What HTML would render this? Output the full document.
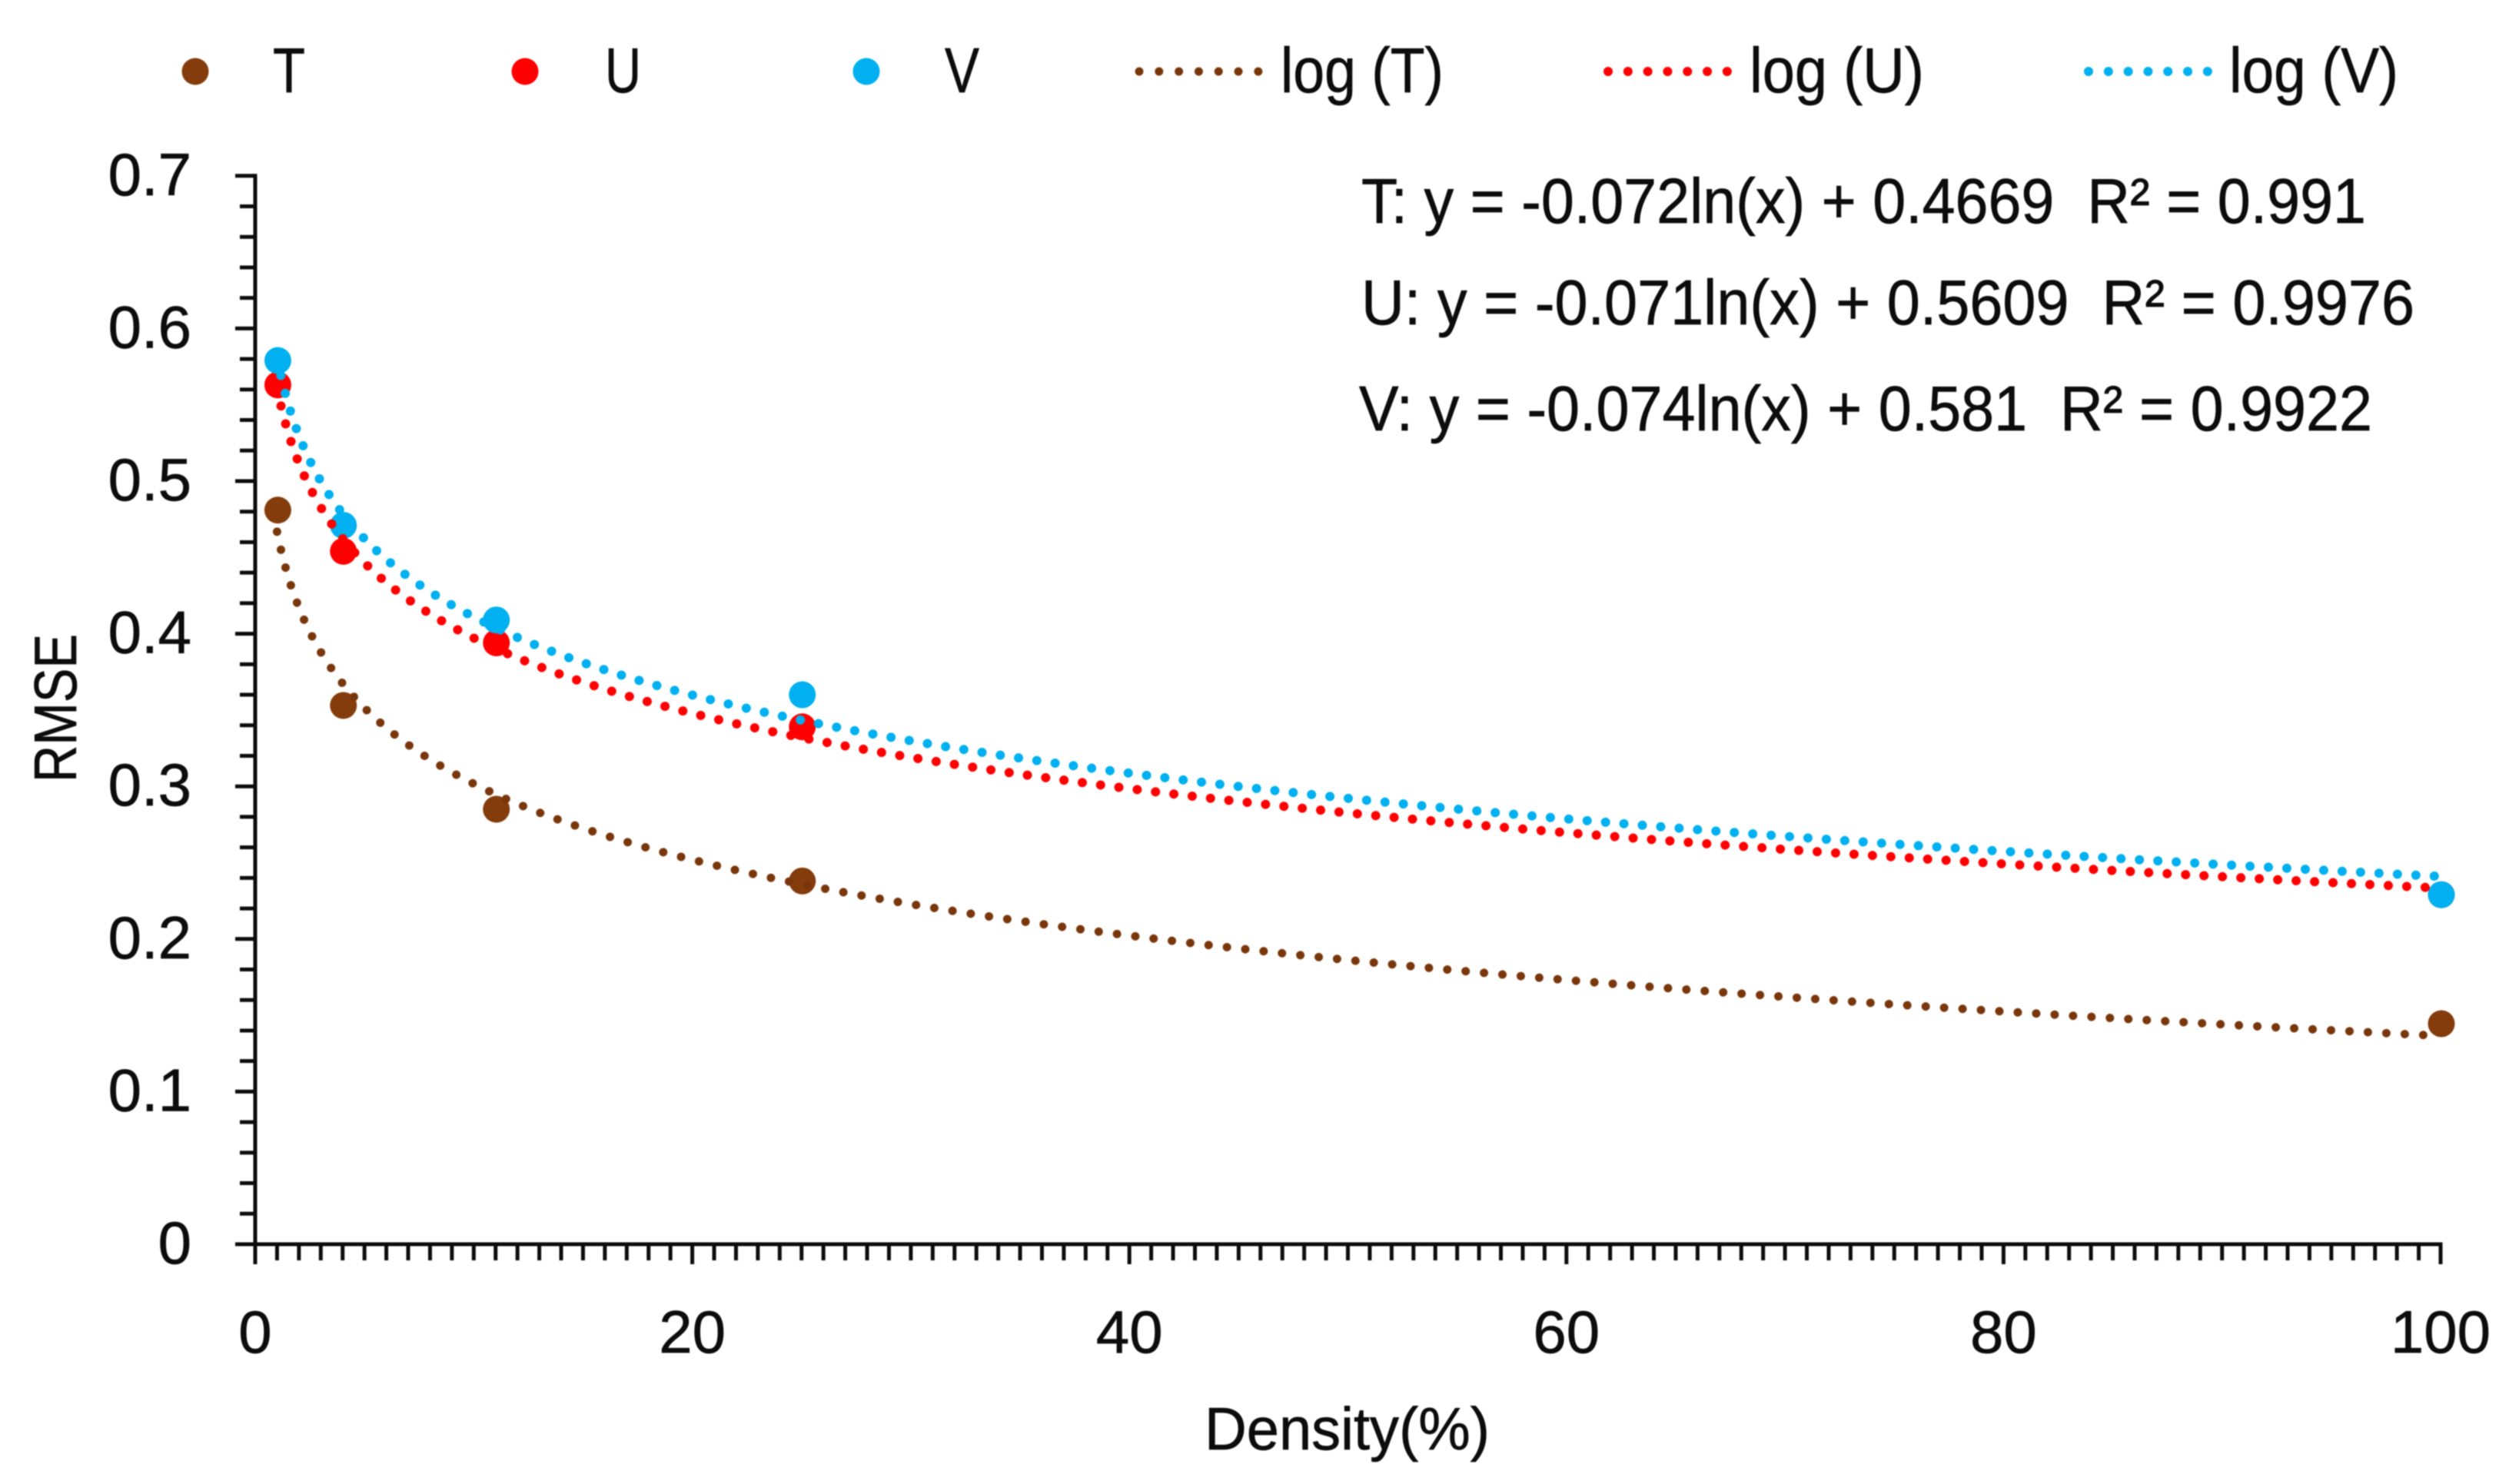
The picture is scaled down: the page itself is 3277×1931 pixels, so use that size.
<!DOCTYPE html>
<html lang="en">
<head>
<meta charset="utf-8">
<title>RMSE vs Density</title>
<style>
html,body{margin:0;padding:0;background:#fff;width:3277px;height:1931px;overflow:hidden}
svg{display:block;filter:blur(0.9px)}
text{font-family:"Liberation Sans",sans-serif;font-size:78px;fill:#0c0c0c;stroke:#0c0c0c;stroke-width:0.7px}
.tall{font-size:83px}
</style>
</head>
<body>
<svg id="chart" xmlns="http://www.w3.org/2000/svg" width="3277" height="1931" viewBox="0 0 3277 1931">
  <rect x="0" y="0" width="3277" height="1931" fill="#fff"/>
  <g id="axes"></g>
  <g id="markers"></g>
  <g id="trends"></g>

  <g>
    <circle cx="254" cy="93" r="17.5" fill="#843C0C"/>
    <text class="tall" x="355" y="120" textLength="42" lengthAdjust="spacingAndGlyphs">T</text>
    <circle cx="683" cy="93" r="17.5" fill="#FF0000"/>
    <text class="tall" x="787" y="120" textLength="47" lengthAdjust="spacingAndGlyphs">U</text>
    <circle cx="1127" cy="93" r="17.5" fill="#00B0F0"/>
    <text class="tall" x="1229" y="120" textLength="45" lengthAdjust="spacingAndGlyphs">V</text>
    <line x1="1482" y1="93" x2="1637" y2="93" stroke="#7A360B" stroke-width="11" stroke-linecap="round" stroke-dasharray="0.01 25.8"/>
    <text class="tall" x="1666" y="120" textLength="212" lengthAdjust="spacingAndGlyphs">log (T)</text>
    <line x1="2092" y1="93" x2="2248" y2="93" stroke="#FF0000" stroke-width="12" stroke-linecap="round" stroke-dasharray="0.01 25.8"/>
    <text class="tall" x="2276" y="120" textLength="227" lengthAdjust="spacingAndGlyphs">log (U)</text>
    <line x1="2717" y1="93" x2="2873" y2="93" stroke="#00B0F0" stroke-width="12" stroke-linecap="round" stroke-dasharray="0.01 25.8"/>
    <text class="tall" x="2900" y="120" textLength="220" lengthAdjust="spacingAndGlyphs">log (V)</text>
  </g>

  <g>
    <text class="tall" x="1771" y="290" textLength="1307" lengthAdjust="spacingAndGlyphs">T: y = -0.072ln(x) + 0.4669 &#160;R² = 0.991</text>
    <text class="tall" x="1771" y="422" textLength="1370" lengthAdjust="spacingAndGlyphs">U: y = -0.071ln(x) + 0.5609 &#160;R² = 0.9976</text>
    <text class="tall" x="1768" y="560" textLength="1318" lengthAdjust="spacingAndGlyphs">V: y = -0.074ln(x) + 0.581 &#160;R² = 0.9922</text>
  </g>

  <text x="1567" y="1886" textLength="371" lengthAdjust="spacingAndGlyphs">Density(%)</text>
  <text transform="translate(99 1018) rotate(-90)" x="0" y="0" textLength="193" lengthAdjust="spacingAndGlyphs">RMSE</text>
</svg>

<script>
const densityValues = [1, 4, 11, 25, 100];
const seriesT = [0.481, 0.353, 0.285, 0.238, 0.1445];
const seriesU = [0.563, 0.454, 0.394, 0.339, 0.229];
const seriesV = [0.579, 0.471, 0.409, 0.360, 0.229];
const xTickLabels = [0, 20, 40, 60, 80, 100];
const yTickLabels = [0, 0.1, 0.2, 0.3, 0.4, 0.5, 0.6, 0.7];

const NS = 'http://www.w3.org/2000/svg';
const xAt = v => 332 + (3175 - 332) * v / 100;
const yAt = v => 1619 - 1986 * v;

const axes = document.getElementById('axes');
const markers = document.getElementById('markers');
const trends = document.getElementById('trends');

function svgEl(tag, attrs, parent) {
  const el = document.createElementNS(NS, tag);
  for (const k in attrs) el.setAttribute(k, attrs[k]);
  parent.appendChild(el);
  return el;
}

const axisStyle = { stroke: '#0c0c0c', 'stroke-width': 5 };

const yAxisLine = svgEl('line', Object.assign({ x1: xAt(0), x2: xAt(0), y1: yAt(0.7) - 2.5, y2: yAt(0) + 26 }, axisStyle), axes);



const xAxisLine = svgEl('line', Object.assign({ x1: xAt(0) - 26, x2: xAt(100) + 2.5, y1: yAt(0), y2: yAt(0) }, axisStyle), axes);



// Minor and major ticks on the x axis (one per density unit)
for (let i = 0; i <= 100; i++) {
  const major = i % 20 === 0;
  const tick = svgEl('line', Object.assign({ x1: xAt(i), x2: xAt(i), y1: yAt(0), y2: yAt(0) + (major ? 26 : 21) }, axisStyle), axes);
  
  
}

// Minor and major ticks on the y axis (one per 0.02)
for (let i = 0; i <= 35; i++) {
  const major = i % 5 === 0;
  const v = i * 0.02;
  const tick = svgEl('line', Object.assign({ x1: xAt(0) - (major ? 26 : 20), x2: xAt(0), y1: yAt(v), y2: yAt(v) }, axisStyle), axes);
  
  
}

xTickLabels.forEach(v => {
  const label = svgEl('text', { x: xAt(v), y: 1760, 'text-anchor': 'middle' }, axes);
  
  
  label.textContent = String(v);
});

yTickLabels.forEach(v => {
  const label = svgEl('text', { x: 249, y: yAt(v) + 25, 'text-anchor': 'end' }, axes);
  
  
  label.textContent = String(v);
});

// Markers, one group per series
function drawPoints(values, color, name) {
  values.forEach((v, i) => {
    const dot = svgEl('circle', { cx: xAt(densityValues[i]) + 1, cy: yAt(v), r: 17.5, fill: color }, markers);
    
    
  });
}
drawPoints(seriesT, '#843C0C', 'point-t');
drawPoints(seriesU, '#FF0000', 'point-u');
drawPoints(seriesV, '#00B0F0', 'point-v');

// Logarithmic trendline: least-squares fit of y on ln(x) from the series above
function logFit(values) {
  const xs = densityValues.map(d => Math.log(d));
  const n = xs.length;
  const mx = xs.reduce((a, b) => a + b, 0) / n;
  const my = values.reduce((a, b) => a + b, 0) / n;
  let sxy = 0, sxx = 0;
  xs.forEach((x, i) => { sxy += (x - mx) * (values[i] - my); sxx += (x - mx) * (x - mx); });
  const slope = sxy / sxx;
  return { slope, intercept: my - slope * mx };
}

function drawTrend(values, color, width, name) {
  const fit = logFit(values);
  const first = densityValues[0];
  const last = densityValues[densityValues.length - 1];
  let d = '';
  for (let i = 0; i <= 400; i++) {
    const x = first * Math.pow(last / first, i / 400);
    const y = fit.intercept + fit.slope * Math.log(x);
    d += (i ? 'L' : 'M') + xAt(x).toFixed(2) + ' ' + yAt(y).toFixed(2);
  }
  const path = svgEl('path', { d: d, fill: 'none', stroke: color, 'stroke-width': width, 'stroke-linecap': 'round', 'stroke-dasharray': '0.01 24' }, trends);
  
  
}
drawTrend(seriesT, '#7A360B', 11, 'trendline-t');
drawTrend(seriesU, '#FF0000', 12, 'trendline-u');
drawTrend(seriesV, '#00B0F0', 12, 'trendline-v');
</script>
</body>
</html>
